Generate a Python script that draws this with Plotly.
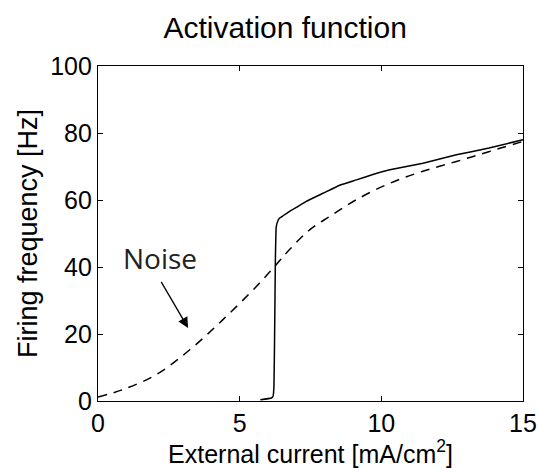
import plotly.graph_objects as go

# Deterministic (solid) activation curve
det_x = [5.73, 6.12, 6.18, 6.21, 6.24, 6.26, 6.29, 6.35, 6.41, 6.53, 6.76, 7.0, 7.35, 7.94,
         8.53, 9.12, 9.7, 10.3, 11.47, 12.65, 13.8, 15.0]
det_y = [0.4, 0.9, 1.5, 4.4, 25.0, 42.0, 52.0, 53.8, 54.6, 55.3, 56.6, 57.8, 59.6, 62.0,
         64.4, 66.0, 67.6, 69.0, 71.0, 73.5, 75.5, 78.0]

# Noisy (dashed) activation curve
noise_x = [0.0, 0.88, 2.06, 3.24, 4.41, 5.59, 6.29, 6.76, 7.47, 8.18, 9.12, 10.3, 11.47, 12.65, 13.82, 15.0]
noise_y = [1.2, 3.4, 7.9, 15.3, 24.3, 34.2, 40.7, 45.2, 51.1, 55.1, 60.1, 65.0, 68.6, 71.5, 74.5, 77.5]

x_ticks = [0, 5, 10, 15]
y_ticks = [0, 20, 40, 60, 80, 100]

FONT = "Liberation Sans, Arial, Helvetica"

fig = go.Figure()
fig.add_trace(go.Scatter(x=noise_x, y=noise_y, mode="lines", line=dict(color="black", width=1.5, dash="9px,7px"),
                         line_shape="spline", showlegend=False))
fig.add_trace(go.Scatter(x=det_x, y=det_y, mode="lines", line=dict(color="black", width=1.5),
                         line_shape="spline", line_smoothing=0.3, showlegend=False))

fig.add_annotation(x=3.18, y=21.8, ax=2.2, ay=36.0, xref="x", yref="y", axref="x", ayref="y",
                   showarrow=True, arrowhead=2, arrowsize=1.6, arrowwidth=1.3, arrowcolor="black", text="")
fig.add_annotation(x=2.19, y=42.7, xref="x", yref="y", text="Noise", showarrow=False,
                   font=dict(family="Open Sans", size=28, color="#222"))

axis_common = dict(showline=True, linecolor="black", linewidth=1.2, mirror="ticks", ticks="inside",
                   ticklen=5, tickcolor="black", showgrid=False, zeroline=False, automargin=False,
                   tickfont=dict(family=FONT, size=25, color="black"))

fig.update_xaxes(range=[0, 15], tickvals=x_ticks, **axis_common,
                 title=dict(text="External current [mA/cm<sup>2</sup>]", standoff=0,
                            font=dict(family=FONT, size=25, color="black")))
fig.update_yaxes(range=[0, 100], tickvals=y_ticks, **axis_common,
                 title=dict(text="Firing frequency [Hz]", standoff=4,
                            font=dict(family=FONT, size=27, color="black")))

fig.update_layout(width=540, height=468, plot_bgcolor="white", paper_bgcolor="white",
                  margin=dict(l=98, r=17, t=66, b=67),
                  title=dict(text="Activation function", x=0.528, xanchor="center", y=0.942, yanchor="middle",
                             font=dict(family=FONT, size=30, color="black")))

fig.write_html("out.html", config={"displayModeBar": False},
               post_script="document.body.style.margin='0';document.body.style.overflow='hidden';")
